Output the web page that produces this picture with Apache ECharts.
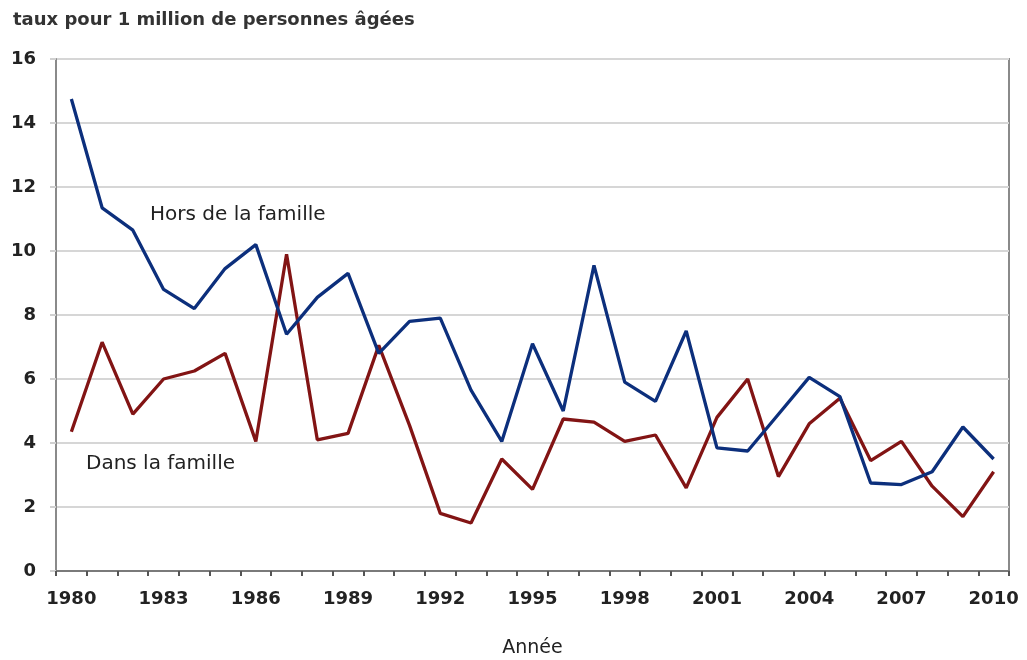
<!DOCTYPE html>
<html>
<head>
<meta charset="utf-8">
<script src="https://cdn.jsdelivr.net/npm/echarts@6/dist/echarts.min.js"></script>
<style>
  html, body { margin: 0; padding: 0; background: #fff; }
  #chart { width: 1027px; height: 660px; }
</style>
</head>
<body>
<div id="chart"></div>
<script>
// years 1980..2010
var years = []
for (var y = 1980; y <= 2010; y++) years.push(String(y))

// taux pour 1 million de personnes âgées
var horsFamille = [14.75, 11.35, 10.65, 8.8, 8.2, 9.45, 10.2, 7.4, 8.55, 9.3,
  6.8, 7.8, 7.9, 5.65, 4.05, 7.1, 5.0, 9.55, 5.9, 5.3,
  7.5, 3.85, 3.75, 4.9, 6.05, 5.45, 2.75, 2.7, 3.1, 4.5, 3.5]
var dansFamille = [4.35, 7.15, 4.9, 6.0, 6.25, 6.8, 4.05, 9.9, 4.1, 4.3,
  7.05, 4.55, 1.8, 1.5, 3.5, 2.55, 4.75, 4.65, 4.05, 4.25,
  2.6, 4.8, 6.0, 2.95, 4.6, 5.4, 3.45, 4.05, 2.65, 1.7, 3.1]

var yTicks = [0, 2, 4, 6, 8, 10, 12, 14, 16]

var chart = echarts.init(document.getElementById('chart'), null, { renderer: 'canvas' })

var labelFont = 'DejaVu Sans'

var option = {
  backgroundColor: '#fff',
  animation: false,
  title: {
    text: 'taux pour 1 million de personnes âgées',
    left: 8,
    top: 6,
    textStyle: { fontFamily: labelFont, fontWeight: 'bold', fontSize: 18, color: '#333' }
  },
  grid: {
    left: 56,
    right: 18,
    top: 59,
    bottom: 89,
    outerBoundsMode: 'none',
    containLabel: false,
    show: true,
    borderColor: '#8a8a8a',
    borderWidth: 2
  },
  xAxis: {
    type: 'category',
    data: years,
    boundaryGap: true,
    name: 'Année',
    nameLocation: 'middle',
    nameGap: 68,
    nameTextStyle: { fontFamily: labelFont, fontSize: 19, color: '#222' },
    axisLine: { lineStyle: { color: '#7a7a7a', width: 2 } },
    axisTick: { show: true, interval: 0, length: 5, lineStyle: { color: '#555', width: 2 } },
    axisLabel: {
      interval: 2,
      margin: 19,
      fontFamily: labelFont,
      fontWeight: 'bold',
      fontSize: 18,
      color: '#222'
    },
    splitLine: { show: false }
  },
  yAxis: {
    type: 'value',
    min: yTicks[0],
    max: yTicks[yTicks.length - 1],
    interval: 2,
    axisLine: { show: true, lineStyle: { color: '#8a8a8a', width: 2 } },
    axisTick: { show: true, length: 6, lineStyle: { color: '#d0d0d0', width: 2 } },
    axisLabel: {
      margin: 20,
      fontFamily: labelFont,
      fontWeight: 'bold',
      fontSize: 18,
      color: '#222'
    },
    splitLine: { lineStyle: { color: '#d6d6d6', width: 2 } }
  },
  series: [
    {
      name: 'Hors de la famille',
      type: 'line',
      data: horsFamille,
      symbol: 'none',
      lineStyle: { color: '#0c2f7c', width: 3.3 },
      itemStyle: { color: '#0c2f7c' },
      z: 3
    },
    {
      name: 'Dans la famille',
      type: 'line',
      data: dansFamille,
      symbol: 'none',
      lineStyle: { color: '#821414', width: 3.3 },
      itemStyle: { color: '#821414' },
      z: 2
    }
  ],
  graphic: [
    {
      type: 'text',
      left: 150,
      top: 205,
      style: { text: 'Hors de la famille', font: '20px "DejaVu Sans"', fill: '#222' }
    },
    {
      type: 'text',
      left: 86,
      top: 454,
      style: { text: 'Dans la famille', font: '20px "DejaVu Sans"', fill: '#222' }
    }
  ]
}

chart.setOption(option)
</script>
</body>
</html>
